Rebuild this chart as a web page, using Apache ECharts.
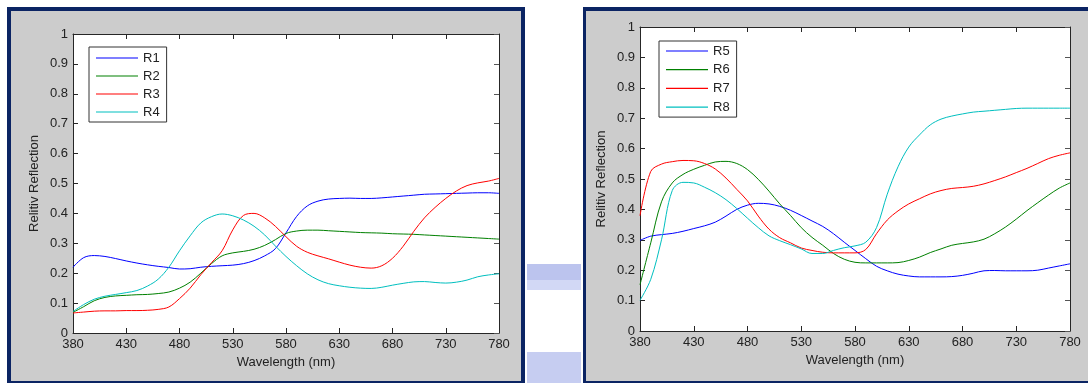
<!DOCTYPE html>
<html>
<head>
<meta charset="utf-8">
<script src="https://cdn.jsdelivr.net/npm/echarts@6/dist/echarts.min.js"></script>
<style>
  html, body { margin: 0; padding: 0; background: #fff; }
  #chart { width: 1088px; height: 383px; }
</style>
</head>
<body>
<div id="chart"></div>
<script>
// wavelength samples (nm)
const wavelengths = [380, 390, 400, 410, 420, 430, 440, 450, 460, 470, 480, 490, 500, 510, 520,
  530, 540, 550, 560, 570, 580, 590, 600, 610, 620, 630, 640, 650, 660, 670, 680, 690, 700,
  710, 720, 730, 740, 750, 760, 770, 780];

// left panel
const r1 = [0.220, 0.252, 0.259, 0.256, 0.249, 0.241, 0.234, 0.228, 0.223, 0.219, 0.214, 0.215, 0.220,
  0.223, 0.225, 0.227, 0.232, 0.242, 0.258, 0.282, 0.335, 0.390, 0.425, 0.441, 0.448, 0.450, 0.451,
  0.450, 0.450, 0.452, 0.455, 0.458, 0.461, 0.464, 0.465, 0.466, 0.467, 0.468, 0.469, 0.469, 0.467];
const r2 = [0.069, 0.088, 0.108, 0.119, 0.124, 0.126, 0.128, 0.129, 0.132, 0.137, 0.150, 0.170, 0.200,
  0.232, 0.258, 0.268, 0.273, 0.280, 0.293, 0.312, 0.333, 0.341, 0.344, 0.344, 0.342, 0.340, 0.338,
  0.336, 0.335, 0.334, 0.332, 0.331, 0.330, 0.328, 0.326, 0.324, 0.322, 0.320, 0.318, 0.316, 0.314];
const r3 = [0.067, 0.070, 0.073, 0.074, 0.074, 0.075, 0.075, 0.076, 0.079, 0.087, 0.115, 0.150, 0.195,
  0.235, 0.275, 0.345, 0.393, 0.400, 0.385, 0.357, 0.322, 0.290, 0.270, 0.258, 0.248, 0.237, 0.227,
  0.220, 0.217, 0.225, 0.250, 0.290, 0.340, 0.385, 0.420, 0.450, 0.475, 0.493, 0.502, 0.508, 0.517];
const r4 = [0.072, 0.095, 0.113, 0.123, 0.129, 0.135, 0.142, 0.157, 0.180, 0.220, 0.275, 0.325, 0.368,
  0.389, 0.398, 0.392, 0.378, 0.357, 0.328, 0.291, 0.256, 0.225, 0.198, 0.178, 0.165, 0.158, 0.153,
  0.150, 0.149, 0.153, 0.160, 0.166, 0.171, 0.172, 0.169, 0.167, 0.170, 0.177, 0.188, 0.194, 0.198];

// right panel
const r5 = [0.298, 0.312, 0.317, 0.321, 0.328, 0.337, 0.346, 0.358, 0.378, 0.400, 0.414, 0.420, 0.418,
  0.410, 0.397, 0.380, 0.362, 0.344, 0.320, 0.292, 0.265, 0.238, 0.213, 0.198, 0.187, 0.181, 0.178,
  0.178, 0.178, 0.179, 0.183, 0.190, 0.198, 0.199, 0.198, 0.198, 0.198, 0.200, 0.207, 0.214, 0.221];
const r6 = [0.152, 0.290, 0.425, 0.487, 0.515, 0.532, 0.545, 0.556, 0.558, 0.551, 0.531, 0.499, 0.460,
  0.418, 0.380, 0.340, 0.308, 0.282, 0.255, 0.236, 0.226, 0.224, 0.224, 0.224, 0.225, 0.232, 0.243,
  0.258, 0.270, 0.282, 0.288, 0.293, 0.302, 0.320, 0.342, 0.368, 0.396, 0.422, 0.447, 0.470, 0.487];
const r7 = [0.379, 0.525, 0.549, 0.557, 0.561, 0.560, 0.551, 0.533, 0.503, 0.466, 0.428, 0.378, 0.335,
  0.307, 0.290, 0.273, 0.265, 0.259, 0.257, 0.257, 0.257, 0.268, 0.320, 0.365, 0.395, 0.418, 0.435,
  0.451, 0.462, 0.469, 0.472, 0.476, 0.484, 0.495, 0.507, 0.521, 0.535, 0.551, 0.567, 0.578, 0.586];
const r8 = [0.101, 0.170, 0.300, 0.462, 0.489, 0.487, 0.473, 0.455, 0.432, 0.403, 0.371, 0.340, 0.313,
  0.297, 0.284, 0.270, 0.255, 0.255, 0.265, 0.274, 0.280, 0.292, 0.340, 0.450, 0.540, 0.605, 0.645,
  0.678, 0.697, 0.707, 0.714, 0.720, 0.723, 0.726, 0.729, 0.732, 0.733, 0.733, 0.733, 0.733, 0.733];

const leftNames = ['R1', 'R2', 'R3', 'R4'];
const rightNames = ['R5', 'R6', 'R7', 'R8'];
const colors = ['#0000ff', '#008000', '#ff0000', '#00bfbf'];

const xName = 'Wavelength (nm)';
const yName = 'Relitiv Reflection';

const FONT = 'Liberation Sans, Arial, sans-serif';
const NAVY = '#0b2463';
const GREY = '#cccccc';
const AXIS = '#262626';

function pairs(arr) {
  return arr.map((v, i) => [wavelengths[i], v]);
}

function bottomAxis(grid) {
  return {
    type: 'value', gridIndex: grid, position: 'bottom',
    min: 380, max: 780, interval: 50,
    name: xName, nameLocation: 'middle', nameGap: 23,
    nameTextStyle: { fontFamily: FONT, fontSize: 13, color: '#222' },
    axisLine: { show: true, onZero: false, lineStyle: { color: AXIS, width: 1 } },
    axisTick: { show: true, inside: true, length: 5, lineStyle: { color: AXIS } },
    axisLabel: { fontFamily: FONT, fontSize: 13, color: '#222', margin: 5 },
    splitLine: { show: false }
  };
}
function topAxis(grid) {
  return {
    type: 'value', gridIndex: grid, position: 'top',
    min: 380, max: 780, interval: 50,
    axisLine: { show: true, onZero: false, lineStyle: { color: AXIS, width: 1 } },
    axisTick: { show: true, inside: true, length: 5, lineStyle: { color: AXIS } },
    axisLabel: { show: false },
    splitLine: { show: false }
  };
}
function leftAxis(grid) {
  return {
    type: 'value', gridIndex: grid, position: 'left',
    min: 0, max: 1, interval: 0.1,
    name: yName, nameLocation: 'middle', nameGap: 32,
    nameTextStyle: { fontFamily: FONT, fontSize: 13, color: '#222' },
    axisLine: { show: true, onZero: false, lineStyle: { color: AXIS, width: 1 } },
    axisTick: { show: true, inside: true, length: 5, lineStyle: { color: AXIS } },
    axisLabel: { fontFamily: FONT, fontSize: 13, color: '#222', margin: 5 },
    splitLine: { show: false }
  };
}
function rightAxis(grid) {
  return {
    type: 'value', gridIndex: grid, position: 'right',
    min: 0, max: 1, interval: 0.1,
    axisLine: { show: true, onZero: false, lineStyle: { color: AXIS, width: 1 } },
    axisTick: { show: true, inside: true, length: 5, lineStyle: { color: '#555' } },
    axisLabel: { show: false },
    splitLine: { show: false }
  };
}

function makeSeries(name, data, idx, grid) {
  return {
    name: name, type: 'line', data: pairs(data),
    xAxisIndex: grid * 2, yAxisIndex: grid * 2,
    symbol: 'none', smooth: 0.35,
    lineStyle: { color: colors[idx], width: 1 },
    itemStyle: { color: colors[idx] },
    emphasis: { disabled: true }
  };
}

function makeLegend(names, left, top, gap, pad) {
  return {
    data: names, orient: 'vertical', left: left, top: top,
    icon: 'rect', itemWidth: 42, itemHeight: 1.2, itemGap: gap,
    padding: pad,
    backgroundColor: '#fff', borderColor: '#333', borderWidth: 1, borderRadius: 0,
    textStyle: { fontFamily: FONT, fontSize: 13, color: '#222', lineHeight: 14 },
    selectedMode: false
  };
}

const chart = echarts.init(document.getElementById('chart'), null, { renderer: 'canvas' });

const option = {
  animation: false,
  backgroundColor: '#fff',
  graphic: [
    // left panel frame
    { type: 'rect', z: -10, shape: { x: 7, y: 7, width: 518, height: 380 }, style: { fill: NAVY } },
    { type: 'rect', z: -9, shape: { x: 11, y: 11, width: 510, height: 370 }, style: { fill: GREY } },
    // right panel frame
    { type: 'rect', z: -10, shape: { x: 583, y: 7, width: 510, height: 380 }, style: { fill: NAVY } },
    { type: 'rect', z: -9, shape: { x: 586, y: 11, width: 506, height: 370 }, style: { fill: GREY } },
    // faint watermark blocks between the panels
    { type: 'rect', z: -10, shape: { x: 527, y: 264, width: 54, height: 16 }, style: { fill: '#bcc4ee' } },
    { type: 'rect', z: -10, shape: { x: 527, y: 280, width: 54, height: 10 }, style: { fill: '#d2d8f5' } },
    { type: 'rect', z: -10, shape: { x: 527, y: 352, width: 54, height: 31 }, style: { fill: '#c6cdf1' } }
  ],
  grid: [
    { left: 73, top: 34, width: 426, height: 299, show: true, backgroundColor: '#fff', borderWidth: 0 },
    { left: 640, top: 27, width: 430, height: 304, show: true, backgroundColor: '#fff', borderWidth: 0 }
  ],
  legend: [
    makeLegend(leftNames, 89, 47, 4, [4, 7, 3, 7]),
    makeLegend(rightNames, 659, 41, 4.7, [3, 7, 3, 7])
  ],
  xAxis: [bottomAxis(0), topAxis(0), bottomAxis(1), topAxis(1)],
  yAxis: [leftAxis(0), rightAxis(0), leftAxis(1), rightAxis(1)],
  series: [
    makeSeries('R1', r1, 0, 0),
    makeSeries('R2', r2, 1, 0),
    makeSeries('R3', r3, 2, 0),
    makeSeries('R4', r4, 3, 0),
    makeSeries('R5', r5, 0, 1),
    makeSeries('R6', r6, 1, 1),
    makeSeries('R7', r7, 2, 1),
    makeSeries('R8', r8, 3, 1)
  ]
};

chart.setOption(option);
</script>
</body>
</html>
